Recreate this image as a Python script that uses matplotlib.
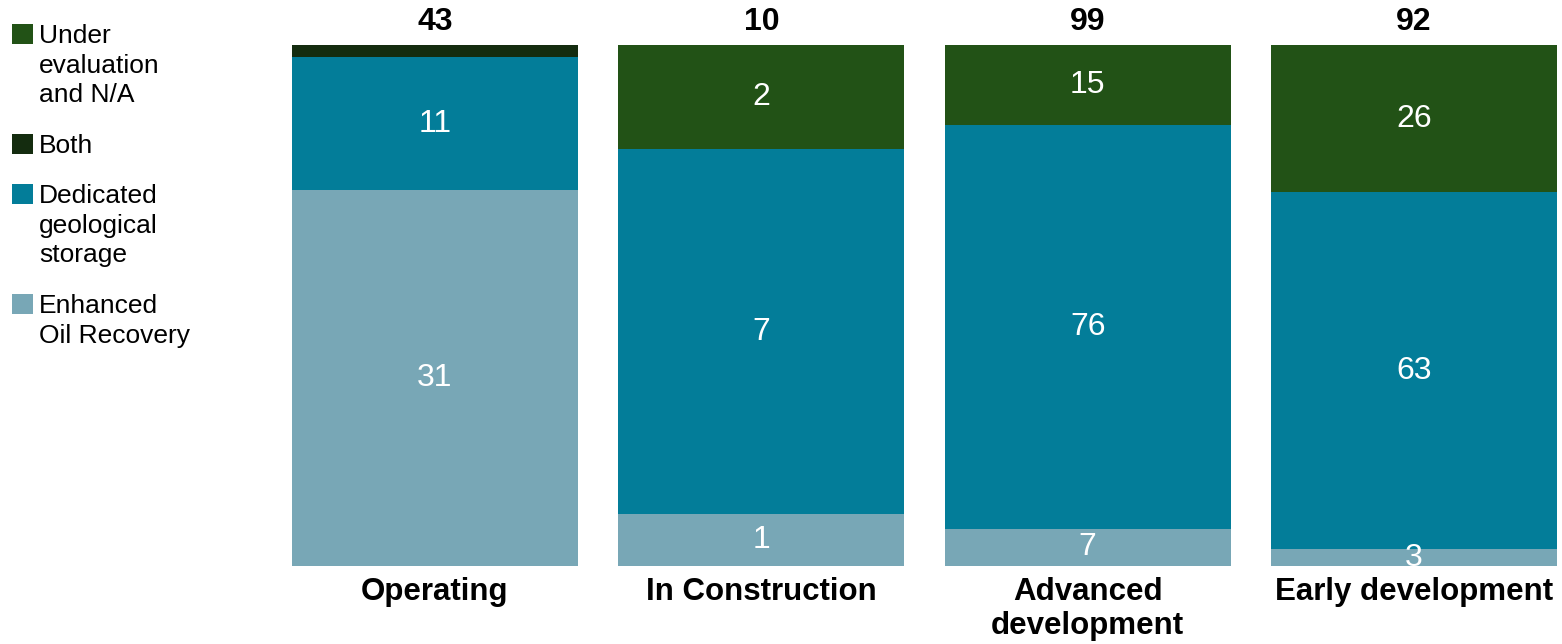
import matplotlib
matplotlib.use("Agg")
import matplotlib.pyplot as plt
from matplotlib.patches import Rectangle
import numpy as np

categories = ["Operating", "In Construction", "Advanced\ndevelopment", "Early development"]
totals = [43, 10, 99, 92]
eor = [31, 1, 7, 3]
dedicated = [11, 7, 76, 63]
both = [1, 0, 0, 0]
under_eval = [0, 2, 15, 26]

series = [
    ("Enhanced\nOil Recovery", eor, "#78a7b6"),
    ("Dedicated\ngeological\nstorage", dedicated, "#037d99"),
    ("Both", both, "#142c0f"),
    ("Under\nevaluation\nand N/A", under_eval, "#225216"),
]

plt.rcParams["font.family"] = ["Liberation Sans", "DejaVu Sans"]

W, H = 1562, 644
fig = plt.figure(figsize=(W / 100, H / 100), dpi=100, facecolor="white")
ax = fig.add_axes([292 / W, 1 - 566 / H, (1557 - 292) / W, (566 - 45) / H])

x = np.arange(len(categories))
sums = np.array([sum(s[1][i] for s in series) for i in range(len(categories))], dtype=float)
bottom = np.zeros(len(categories))
width = 0.876
for name, vals, color in series:
    frac = np.array(vals) / sums
    ax.bar(x, frac, width, bottom=bottom, color=color, linewidth=0)
    for i, (f, v) in enumerate(zip(frac, vals)):
        if f > 0.03:
            ax.text(x[i], bottom[i] + f / 2, str(v), ha="center", va="center",
                    color="white", fontsize=23)
    bottom += frac

for i, t in enumerate(totals):
    ax.text(x[i], 1 + 15 / 521, str(t), ha="center", va="baseline",
            fontsize=23, fontweight="bold", color="black")

ax.set_xlim(-width / 2, len(categories) - 1 + width / 2)
ax.set_ylim(0, 1)
ax.set_xticks(x)
ax.set_xticklabels(categories, fontsize=22.5, fontweight="bold", linespacing=1.15)
ax.tick_params(axis="x", length=0, pad=8)
ax.set_yticks([])
for sp in ax.spines.values():
    sp.set_visible(False)

# legend, drawn by hand to keep the stacked text layout
legend_tops = [24, 134, 184, 294]
for (name, vals, color), top in zip(series[::-1], legend_tops):
    fig.patches.append(Rectangle((12 / W, 1 - (top + 20) / H), 21 / W, 20 / H,
                                 transform=fig.transFigure, facecolor=color,
                                 edgecolor="none"))
    fig.text(39 / W, 1 - top / H, name, ha="left", va="top",
             fontsize=19, color="black", linespacing=1.3)

fig.savefig("out.png", dpi=100, facecolor="white")
